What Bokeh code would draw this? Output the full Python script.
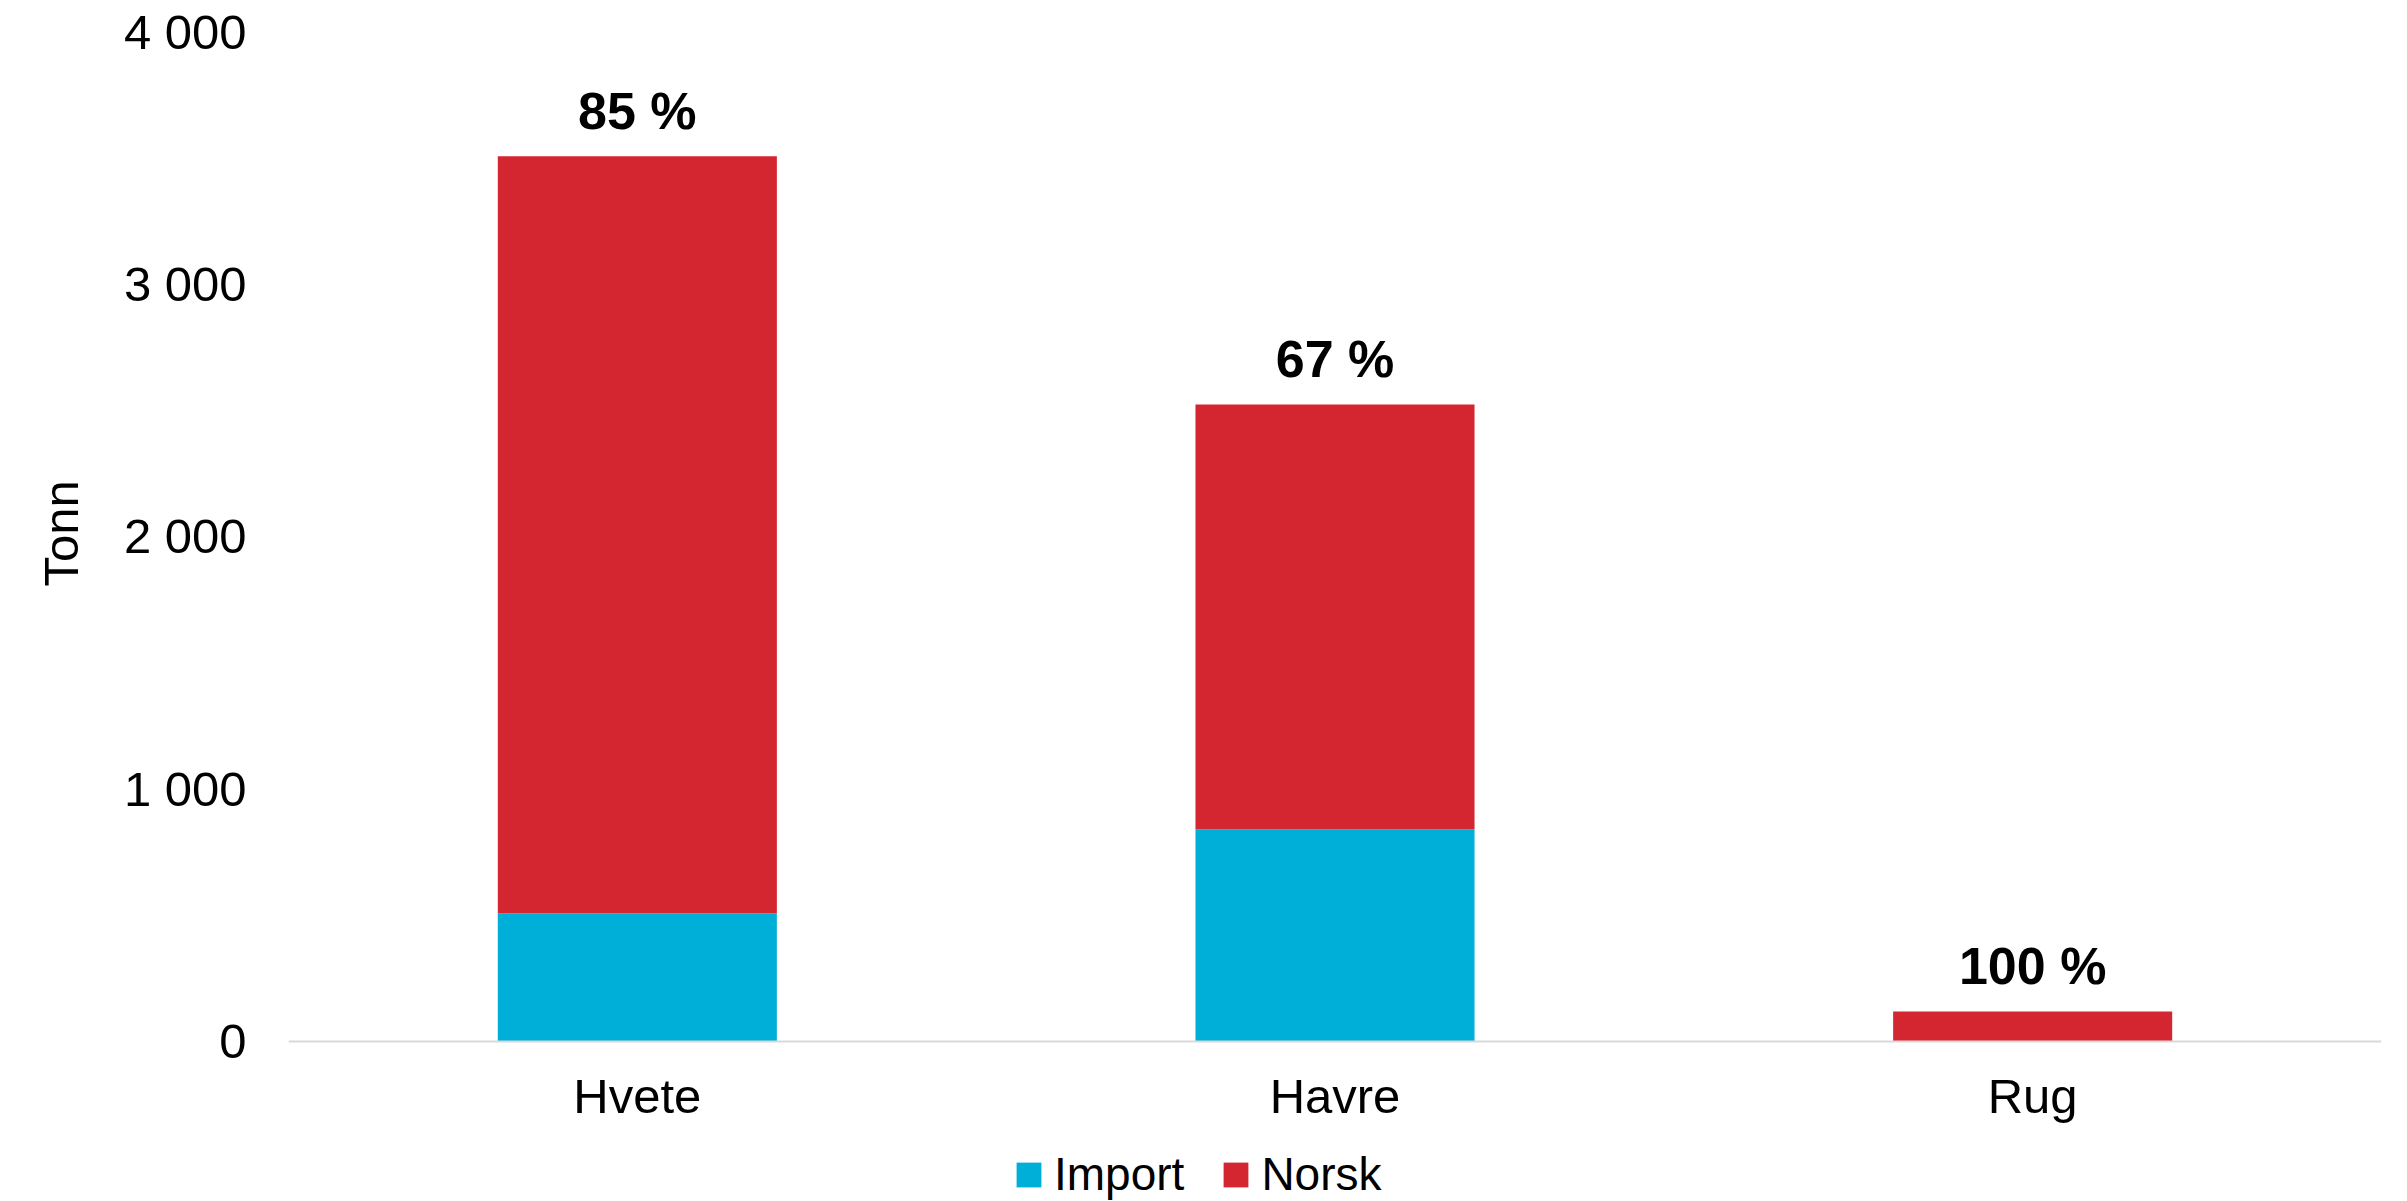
from bokeh.plotting import figure
from bokeh.models import FactorRange, Range1d, FixedTicker, Legend, LegendItem, ColumnDataSource, Title
from bokeh.core.properties import value
from bokeh.embed import file_html
from bokeh.resources import INLINE

categories = ["Hvete", "Havre", "Rug"]
series_names = ["Import", "Norsk"]
import_vals = [508, 840, 0]
norsk_vals = [2998, 1683, 119]
pct_labels = ["85 %", "67 %", "100 %"]
y_ticks = [0, 1000, 2000, 3000, 4000]
y_tick_labels = ["0", "1 000", "2 000", "3 000", "4 000"]
y_title = "Tonn"
colors = ["#00AFD7", "#D42631"]

FONT = "Liberation Sans"

totals = [a + b for a, b in zip(import_vals, norsk_vals)]
src = ColumnDataSource(dict(cat=categories, Import=import_vals, Norsk=norsk_vals,
                            total=totals, lbl=pct_labels))

# frame extends below zero to leave room for the legend; the x axis sits at y = 0
p = figure(x_range=FactorRange(*categories, range_padding=0), y_range=Range1d(-634, 4000),
           width=2407, height=1201, output_backend="svg", toolbar_location=None,
           min_border_left=281, min_border_right=26, min_border_top=31, min_border_bottom=0)

rs = p.vbar_stack(series_names, x="cat", width=0.4, source=src, color=colors, line_width=0)

p.text(x="cat", y="total", text="lbl", source=src, text_align="center",
       text_baseline="alphabetic", y_offset=-45, text_font=value(FONT),
       text_font_style="bold", text_font_size="52px", text_color="black")

p.xgrid.visible = False
p.ygrid.visible = False
p.outline_line_color = None

p.yaxis.ticker = FixedTicker(ticks=y_ticks)
p.yaxis.major_label_overrides = {t: l for t, l in zip(y_ticks, y_tick_labels)}
p.yaxis.axis_line_color = None
p.yaxis.major_tick_line_color = None
p.yaxis.minor_tick_line_color = None
p.yaxis.major_tick_out = 0
p.yaxis.major_label_standoff = 42
p.yaxis.major_label_text_font = FONT
p.yaxis.major_label_text_font_size = "49px"
p.yaxis.major_label_text_color = "black"

ytitle = Title(text=y_title, align="left", offset=615, vertical_align="middle", standoff=64,
               text_font=FONT, text_font_size="49px", text_font_style="normal",
               text_color="black")
p.add_layout(ytitle, "left")

p.xaxis.fixed_location = 0
p.xaxis.axis_line_color = "#D9D9D9"
p.xaxis.axis_line_width = 2
p.xaxis.major_tick_line_color = None
p.xaxis.major_tick_out = 0
p.xaxis.major_tick_in = 0
p.xaxis.major_label_standoff = 28
p.xaxis.major_label_text_font = FONT
p.xaxis.major_label_text_font_size = "49px"
p.xaxis.major_label_text_color = "black"

legend = Legend(items=[LegendItem(label=n, renderers=[r]) for n, r in zip(series_names, rs)],
                orientation="horizontal", location=(725, 0),
                glyph_width=31, glyph_height=31, label_standoff=10, spacing=36,
                padding=0, margin=0, border_line_color=None, background_fill_alpha=0,
                label_text_font=FONT, label_text_font_size="46px", label_text_color="black")
p.add_layout(legend, "center")

open("out.html", "w").write(file_html(p, INLINE))
